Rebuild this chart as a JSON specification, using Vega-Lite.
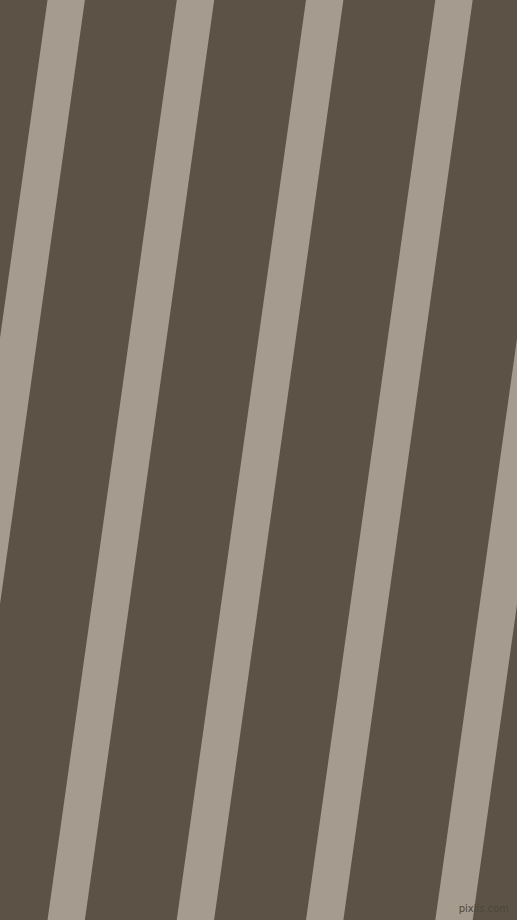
{
  "$schema": "https://vega.github.io/schema/vega-lite/v6.json",
  "width": 517,
  "height": 920,
  "autosize": {"type": "fit", "contains": "padding"},
  "padding": 0,
  "background": "#5c5346",
  "view": {"stroke": null, "fill": "#5c5346"},
  "layer": [
    {
      "data": {
        "values": [
          {"stripe": 0, "px": -49.05, "py": -100, "pt": 0},
          {"stripe": 0, "px": -206.45, "py": 1020, "pt": 1},
          {"stripe": 1, "px": 80.25, "py": -100, "pt": 0},
          {"stripe": 1, "px": -77.15, "py": 1020, "pt": 1},
          {"stripe": 2, "px": 209.55, "py": -100, "pt": 0},
          {"stripe": 2, "px": 52.15, "py": 1020, "pt": 1},
          {"stripe": 3, "px": 338.75, "py": -100, "pt": 0},
          {"stripe": 3, "px": 181.35, "py": 1020, "pt": 1},
          {"stripe": 4, "px": 468.05, "py": -100, "pt": 0},
          {"stripe": 4, "px": 310.65, "py": 1020, "pt": 1},
          {"stripe": 5, "px": 597.35, "py": -100, "pt": 0},
          {"stripe": 5, "px": 439.95, "py": 1020, "pt": 1}
        ]
      },
      "mark": {"type": "line", "clip": true, "strokeWidth": 37, "strokeCap": "butt", "color": "#a59b8f"},
      "encoding": {
        "x": {"field": "px", "type": "quantitative", "scale": {"domain": [0, 517], "nice": false, "zero": false}, "axis": null},
        "y": {"field": "py", "type": "quantitative", "scale": {"domain": [0, 920], "nice": false, "zero": false, "reverse": true}, "axis": null},
        "detail": {"field": "stripe", "type": "nominal"},
        "order": {"field": "pt", "type": "quantitative"}
      }
    },
    {
      "data": {"values": [{"label": "pixlis.com", "px": 509, "py": 912}]},
      "mark": {"type": "text", "align": "right", "baseline": "alphabetic", "fontSize": 10, "font": "DejaVu Sans", "color": "#4e463b"},
      "encoding": {
        "x": {"field": "px", "type": "quantitative", "scale": {"domain": [0, 517], "nice": false, "zero": false}, "axis": null},
        "y": {"field": "py", "type": "quantitative", "scale": {"domain": [0, 920], "nice": false, "zero": false, "reverse": true}, "axis": null},
        "text": {"field": "label"}
      }
    }
  ]
}
